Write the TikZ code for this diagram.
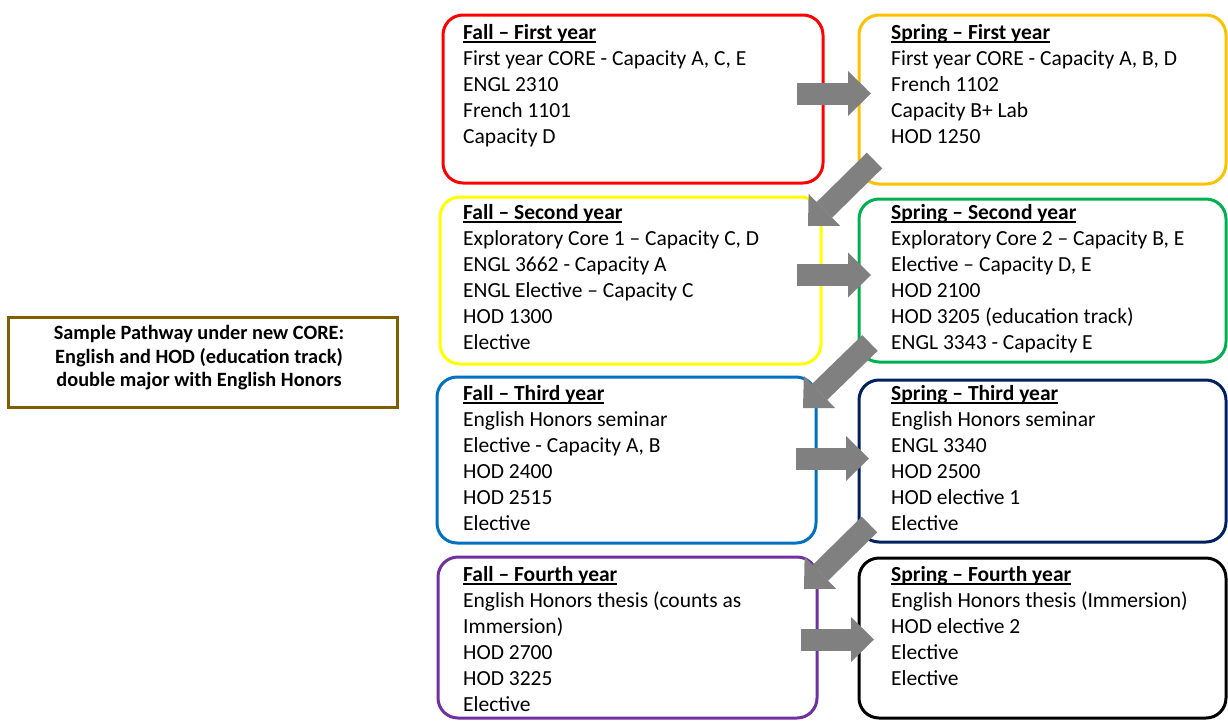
\documentclass[tikz,border=0pt]{standalone}
\usepackage{fontspec}
\setmainfont{Carlito}
\usetikzlibrary{arrows.meta}
\definecolor{cRed}{HTML}{FF0000}
\definecolor{cOrange}{HTML}{FFC000}
\definecolor{cYellow}{HTML}{FFFF00}
\definecolor{cGreen}{HTML}{00B050}
\definecolor{cBlue}{HTML}{0070C0}
\definecolor{cNavy}{HTML}{002060}
\definecolor{cPurple}{HTML}{7030A0}
\definecolor{cTitle}{HTML}{7F6000}
\definecolor{cArrow}{HTML}{808080}
\newcommand\myul[1]{\setbox0=\hbox{#1}\rlap{\rule[-3.5pt]{\wd0}{1.3pt}}\box0}
\newcommand\yeartext[2]{\vtop{\baselineskip=26pt\lineskiplimit=-20pt\hbox{\myul{\bfseries #1}}#2}}
\begin{document}
\begin{tikzpicture}[x=1pt,y=-1pt,
  yearbox/.style={draw, line width=3pt, rounded corners=20pt, inner sep=0pt},
  yeartxt/.style={anchor=base west, inner sep=0pt, font=\fontsize{21.5}{26}\selectfont},
  blockarrow/.style={draw=cArrow, line width=22pt, -{Triangle[length=23pt,width=45pt,line width=0pt]}},
]
\useasboundingbox (0,0) rectangle (1228,720);

% title box
\node[draw=cTitle, line width=3pt, minimum width=389pt, minimum height=90pt, inner sep=0pt] (title) at (202.5,362) {};
\node[font=\fontsize{20.3}{23.5}\selectfont\bfseries, align=center, inner sep=0pt] (titletext) at (199,358) {Sample Pathway under new CORE:\\English and HOD (education track)\\double major with English Honors};

% year boxes
\node[yearbox, draw=cRed, minimum width=380pt, minimum height=168pt] (f1) at (633,99) {};
\node[yearbox, draw=cOrange, minimum width=367pt, minimum height=169pt] (s1) at (1042.5,99.5) {};
\node[yearbox, draw=cYellow, minimum width=381pt, minimum height=167pt] (f2) at (630.5,280.5) {};
\node[yearbox, draw=cGreen, minimum width=367pt, minimum height=163pt] (s2) at (1042.5,280.5) {};
\node[yearbox, draw=cBlue, minimum width=379pt, minimum height=166pt] (f3) at (626.5,460) {};
\node[yearbox, draw=cNavy, minimum width=367pt, minimum height=162pt] (s3) at (1042.5,461) {};
\node[yearbox, draw=cPurple, minimum width=379pt, minimum height=161pt] (f4) at (627.5,637.5) {};
\node[yearbox, draw=black, minimum width=367pt, minimum height=160pt] (s4) at (1042.5,638) {};

% texts
\node[yeartxt] (f1t) at (463,39) {\yeartext{Fall – First year}{%
  \hbox{First year CORE - Capacity A, C, E}\hbox{ENGL 2310}\hbox{French 1101}\hbox{Capacity D}}};
\node[yeartxt] (s1t) at (891,39) {\yeartext{Spring – First year}{%
  \hbox{First year CORE - Capacity A, B, D}\hbox{French 1102}\hbox{Capacity B+ Lab}\hbox{HOD 1250}}};
\node[yeartxt] (f2t) at (463,219) {\yeartext{Fall – Second year}{%
  \hbox{Exploratory Core 1 – Capacity C, D}\hbox{ENGL 3662 - Capacity A}\hbox{ENGL Elective – Capacity C}\hbox{HOD 1300}\hbox{Elective}}};
\node[yeartxt] (s2t) at (891,219) {\yeartext{Spring – Second year}{%
  \hbox{Exploratory Core 2 – Capacity B, E}\hbox{Elective – Capacity D, E}\hbox{HOD 2100}\hbox{HOD 3205 (education track)}\hbox{ENGL 3343 - Capacity E}}};
\node[yeartxt] (f3t) at (463,400) {\yeartext{Fall – Third year}{%
  \hbox{English Honors seminar}\hbox{Elective - Capacity A, B}\hbox{HOD 2400}\hbox{HOD 2515}\hbox{Elective}}};
\node[yeartxt] (s3t) at (891,400) {\yeartext{Spring – Third year}{%
  \hbox{English Honors seminar}\hbox{ENGL 3340}\hbox{HOD 2500}\hbox{HOD elective 1}\hbox{Elective}}};
\node[yeartxt] (f4t) at (463,581) {\yeartext{Fall – Fourth year}{%
  \hbox{English Honors thesis (counts as}\hbox{Immersion)}\hbox{HOD 2700}\hbox{HOD 3225}\hbox{Elective}}};
\node[yeartxt] (s4t) at (891,581) {\yeartext{Spring – Fourth year}{%
  \hbox{English Honors thesis (Immersion)}\hbox{HOD elective 2}\hbox{Elective}\hbox{Elective}}};

% arrow end points
\coordinate (a1s) at (797,93.5);   \coordinate (a1e) at (871,93.5);
\coordinate (d1s) at (874.5,160.5); \coordinate (d1e) at (808,226);
\coordinate (a2s) at (797,275);    \coordinate (a2e) at (871,275);
\coordinate (d2s) at (870,343);    \coordinate (d2e) at (803,408);
\coordinate (a3s) at (796,458.5);  \coordinate (a3e) at (869,458.5);
\coordinate (d3s) at (869.5,524.5); \coordinate (d3e) at (804,589);
\coordinate (a4s) at (801,639.5);  \coordinate (a4e) at (874,639.5);

\draw[blockarrow] (a1s) -- (a1e);
\draw[blockarrow] (d1s) -- (d1e);
\draw[blockarrow] (a2s) -- (a2e);
\draw[blockarrow] (d2s) -- (d2e);
\draw[blockarrow] (a3s) -- (a3e);
\draw[blockarrow] (d3s) -- (d3e);
\draw[blockarrow] (a4s) -- (a4e);
\end{tikzpicture}
\end{document}
